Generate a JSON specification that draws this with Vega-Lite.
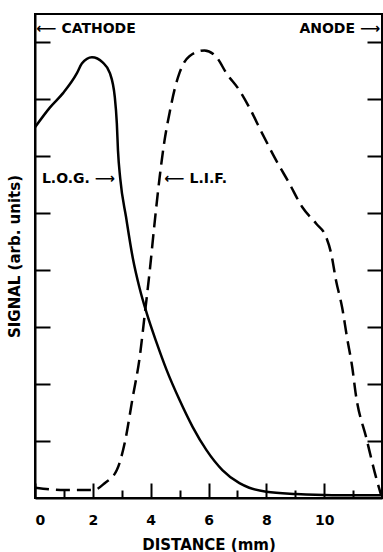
{
  "$schema": "https://vega.github.io/schema/vega-lite/v6.json",
  "width": 347,
  "height": 484,
  "autosize": "none",
  "padding": {"left": 35, "top": 14, "right": 1, "bottom": 54},
  "config": {
    "view": {"stroke": "black", "strokeWidth": 2},
    "font": "DejaVu Sans",
    "axis": {"grid": false, "domainColor": "black", "domainWidth": 2, "tickColor": "black", "tickWidth": 2, "labelColor": "black", "titleColor": "black", "labelFont": "DejaVu Sans", "titleFont": "DejaVu Sans"}
  },
  "datasets": {
    "log": [
      {"x": 0, "y": 6.51}, {"x": 0.52, "y": 6.86}, {"x": 0.97, "y": 7.11}, {"x": 1.45, "y": 7.46},
      {"x": 1.62, "y": 7.63}, {"x": 1.97, "y": 7.74}, {"x": 2.34, "y": 7.65}, {"x": 2.59, "y": 7.46},
      {"x": 2.76, "y": 7.04}, {"x": 2.83, "y": 6.58}, {"x": 2.87, "y": 6.1}, {"x": 2.95, "y": 5.6},
      {"x": 3.15, "y": 4.93}, {"x": 3.38, "y": 4.22}, {"x": 3.62, "y": 3.68}, {"x": 3.86, "y": 3.25},
      {"x": 4.21, "y": 2.72}, {"x": 4.55, "y": 2.25}, {"x": 5.0, "y": 1.72}, {"x": 5.45, "y": 1.25},
      {"x": 5.93, "y": 0.84}, {"x": 6.48, "y": 0.49}, {"x": 7.07, "y": 0.26}, {"x": 7.41, "y": 0.18},
      {"x": 8.0, "y": 0.11}, {"x": 9.03, "y": 0.07}, {"x": 10.28, "y": 0.05}, {"x": 12, "y": 0.05}
    ],
    "lif": [
      {"x": 0, "y": 0.18}, {"x": 1.03, "y": 0.14}, {"x": 2.03, "y": 0.14}, {"x": 2.41, "y": 0.26},
      {"x": 2.83, "y": 0.49}, {"x": 3.1, "y": 0.96}, {"x": 3.38, "y": 1.77}, {"x": 3.62, "y": 2.47},
      {"x": 3.79, "y": 3.2}, {"x": 3.97, "y": 4.0}, {"x": 4.14, "y": 4.85}, {"x": 4.31, "y": 5.63},
      {"x": 4.48, "y": 6.28}, {"x": 4.66, "y": 6.78}, {"x": 4.83, "y": 7.18}, {"x": 5.0, "y": 7.47},
      {"x": 5.34, "y": 7.76}, {"x": 5.86, "y": 7.86}, {"x": 6.28, "y": 7.74}, {"x": 6.62, "y": 7.46},
      {"x": 7.07, "y": 7.16}, {"x": 7.41, "y": 6.86}, {"x": 7.86, "y": 6.4}, {"x": 8.34, "y": 5.93},
      {"x": 8.79, "y": 5.53}, {"x": 9.24, "y": 5.11}, {"x": 9.72, "y": 4.82}, {"x": 10.07, "y": 4.58},
      {"x": 10.24, "y": 4.3}, {"x": 10.41, "y": 3.82}, {"x": 10.62, "y": 3.35}, {"x": 10.79, "y": 2.82},
      {"x": 10.97, "y": 2.3}, {"x": 11.1, "y": 1.8}, {"x": 11.45, "y": 1.07}, {"x": 11.79, "y": 0.37},
      {"x": 11.97, "y": 0.05}
    ],
    "labels": [
      {"x": 0.05, "y": 8.23, "text": "⟵ CATHODE", "side": "left"},
      {"x": 11.93, "y": 8.23, "text": "ANODE ⟶", "side": "right"},
      {"x": 2.76, "y": 5.61, "text": "L.O.G. ⟶", "side": "right"},
      {"x": 4.48, "y": 5.61, "text": "⟵ L.I.F.", "side": "left"}
    ]
  },
  "resolve": {"axis": {"x": "independent", "y": "independent"}},
  "layer": [
    {
      "data": {"name": "log"},
      "mark": {"type": "line", "color": "black", "strokeWidth": 2.5, "interpolate": "monotone"},
      "encoding": {
        "x": {"field": "x", "type": "quantitative", "scale": {"domain": [0, 12], "nice": false},
          "axis": {"orient": "bottom", "values": [0, 2, 4, 6, 8, 10], "tickSize": -15, "labelPadding": 30, "labelFontSize": 14, "labelFontWeight": "bold", "title": "DISTANCE (mm)", "titleFontSize": 15, "titleFontWeight": "bold", "titlePadding": 10}},
        "y": {"field": "y", "type": "quantitative", "scale": {"domain": [0, 8.5], "nice": false},
          "axis": {"orient": "left", "values": [1, 2, 3, 4, 5, 6, 7, 8], "tickSize": -15, "labels": false, "title": "SIGNAL  (arb. units)", "titleFontSize": 15, "titleFontWeight": "bold", "titlePadding": 12}}
      }
    },
    {
      "data": {"name": "lif"},
      "mark": {"type": "line", "color": "black", "strokeWidth": 2.5, "strokeDash": [14, 7], "interpolate": "monotone"},
      "encoding": {
        "x": {"field": "x", "type": "quantitative",
          "axis": {"orient": "bottom", "values": [1, 3, 5, 7, 9, 11], "tickSize": -8, "labels": false, "domain": false, "title": null}},
        "y": {"field": "y", "type": "quantitative",
          "axis": {"orient": "right", "values": [1, 2, 3, 4, 5, 6, 7, 8], "tickSize": -15, "labels": false, "title": null}}
      }
    },
    {
      "data": {"name": "labels"},
      "transform": [{"filter": "datum.side === 'left'"}],
      "mark": {"type": "text", "fontSize": 14, "fontWeight": "bold", "color": "black", "baseline": "middle", "align": "left"},
      "encoding": {
        "x": {"field": "x", "type": "quantitative", "axis": null},
        "y": {"field": "y", "type": "quantitative", "axis": null},
        "text": {"field": "text"}
      }
    },
    {
      "data": {"name": "labels"},
      "transform": [{"filter": "datum.side === 'right'"}],
      "mark": {"type": "text", "fontSize": 14, "fontWeight": "bold", "color": "black", "baseline": "middle", "align": "right"},
      "encoding": {
        "x": {"field": "x", "type": "quantitative", "axis": null},
        "y": {"field": "y", "type": "quantitative", "axis": null},
        "text": {"field": "text"}
      }
    }
  ]
}
